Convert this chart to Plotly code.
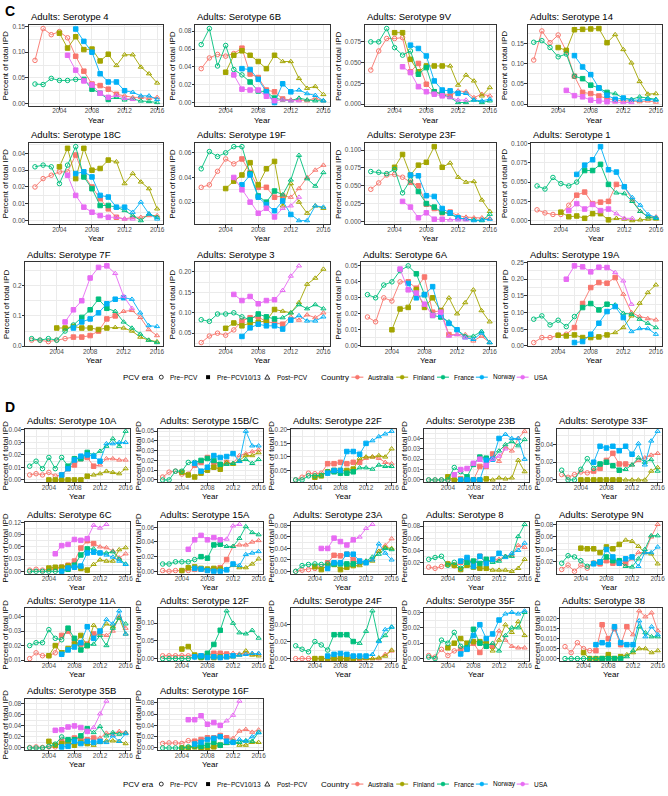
import plotly.graph_objects as go

W, H = 668, 796
YEARS = list(range(2001, 2017))
COUNTRIES = ["Australia", "Finland", "France", "Norway", "USA"]
COLORS = {"Australia": "#F8766D", "Finland": "#A3A500", "France": "#00BF7D",
          "Norway": "#00B0F6", "USA": "#E76BF3"}
# first year of the Pre-PCV10/13 era and of the Post-PCV era, per country
ERA_STARTS = {"Australia": (2006, 2012), "Finland": (2001, 2011), "France": (2007, 2011),
              "Norway": (2001, 2013), "USA": (2001, 2011)}
N = None

# ---- panel C (values 2001..2016, None = no data) ----
s4 = {
    "Australia": [0.084, 0.146, 0.134, 0.140, 0.128, 0.092, 0.063, 0.038, 0.035, 0.028, 0.018, 0.015, 0.012, 0.012, 0.010, 0.012],
    "Finland": [N, N, N, 0.137, 0.108, 0.130, 0.105, 0.106, 0.083, 0.096, 0.074, 0.095, 0.095, 0.071, 0.058, 0.040],
    "France": [0.038, 0.037, 0.049, 0.045, 0.045, 0.047, 0.047, 0.028, 0.020, 0.008, 0.012, 0.007, 0.009, 0.005, 0.004, 0.002],
    "Norway": [N, N, N, N, N, 0.145, 0.121, 0.100, 0.058, 0.042, 0.042, 0.025, 0.022, 0.015, 0.015, 0.008],
    "USA": [N, N, N, N, 0.094, 0.065, 0.044, 0.036, 0.020, 0.012, 0.016, 0.010, 0.008, N, N, N],
}
s6B = {
    "Australia": [0.038, 0.050, 0.054, 0.052, 0.055, 0.061, 0.032, 0.028, 0.014, 0.012, 0.004, 0.003, 0.003, 0.002, 0.005, 0.002],
    "Finland": [N, N, N, 0.034, 0.053, 0.058, 0.053, 0.046, 0.038, 0.053, 0.046, 0.046, 0.027, 0.016, 0.018, 0.009],
    "France": [0.065, 0.083, 0.041, 0.064, 0.037, 0.031, 0.023, 0.013, 0.012, 0.005, 0.003, 0.002, 0.005, 0.003, 0.002, 0.002],
    "Norway": [N, N, N, N, N, 0.038, 0.037, 0.026, 0.012, 0.000, 0.021, 0.012, 0.014, 0.010, 0.008, 0.002],
    "USA": [N, N, N, N, 0.031, 0.015, 0.014, 0.014, 0.007, 0.002, 0.003, 0.002, 0.002, N, N, N],
}
s9V = {
    "Australia": [0.041, 0.064, 0.079, 0.079, 0.080, 0.039, 0.049, 0.024, 0.014, 0.013, 0.010, 0.016, 0.015, 0.008, 0.012, 0.010],
    "Finland": [N, N, N, 0.086, 0.086, 0.054, 0.039, 0.046, 0.046, 0.046, 0.046, 0.023, 0.035, 0.028, 0.010, 0.020],
    "France": [0.075, 0.075, 0.091, 0.068, 0.059, 0.064, 0.036, 0.044, 0.015, 0.012, 0.008, 0.002, 0.002, 0.005, 0.002, 0.004],
    "Norway": [N, N, N, N, N, 0.071, 0.067, 0.058, 0.028, 0.017, 0.016, 0.013, 0.013, 0.005, 0.004, 0.006],
    "USA": [N, N, N, N, 0.045, 0.038, 0.021, 0.015, 0.012, 0.010, 0.008, 0.005, 0.005, N, N, N],
}
s14 = {
    "Australia": [0.109, 0.181, 0.152, 0.171, 0.131, 0.069, 0.029, 0.026, 0.020, 0.014, 0.010, 0.008, 0.008, 0.006, 0.008, 0.005],
    "Finland": [N, N, N, 0.140, 0.133, 0.184, 0.185, 0.186, 0.187, 0.152, 0.172, 0.135, 0.102, 0.056, 0.025, 0.026],
    "France": [0.153, 0.157, 0.140, 0.117, 0.124, 0.069, 0.063, 0.047, 0.040, 0.029, 0.026, 0.015, 0.012, 0.018, 0.015, 0.012],
    "Norway": [N, N, N, N, N, 0.120, 0.092, 0.073, 0.040, 0.022, 0.012, 0.015, 0.010, 0.010, 0.012, 0.010],
    "USA": [N, N, N, N, 0.034, 0.021, 0.018, 0.010, 0.008, 0.006, 0.005, 0.004, 0.004, N, N, N],
}
s18C = {
    "Australia": [0.020, 0.025, 0.027, 0.029, 0.029, 0.039, 0.027, 0.020, 0.013, 0.007, 0.002, 0.001, 0.002, 0.002, 0.003, 0.003],
    "Finland": [N, N, N, 0.032, 0.043, 0.025, 0.043, 0.030, 0.031, 0.036, 0.035, 0.022, 0.028, 0.023, 0.019, 0.007],
    "France": [0.032, 0.033, 0.032, 0.022, 0.033, 0.044, 0.026, 0.019, 0.009, 0.009, 0.008, 0.006, 0.003, 0.000, 0.004, 0.002],
    "Norway": [N, N, N, N, N, 0.028, 0.029, 0.026, 0.015, 0.014, 0.008, 0.008, 0.005, 0.011, 0.004, 0.001],
    "USA": [N, N, N, N, 0.027, 0.015, 0.008, 0.005, 0.003, 0.002, 0.002, 0.001, 0.001, N, N, N],
}
s19F = {
    "Australia": [0.032, 0.034, 0.045, 0.055, 0.051, 0.055, 0.044, 0.032, 0.032, 0.024, 0.025, 0.024, 0.031, 0.040, 0.046, 0.050],
    "Finland": [N, N, N, 0.031, 0.037, 0.042, 0.052, 0.034, 0.047, 0.053, 0.017, 0.035, 0.020, 0.011, 0.017, 0.015],
    "France": [0.047, 0.061, 0.057, 0.060, 0.065, 0.065, 0.043, 0.025, 0.020, 0.029, 0.026, 0.038, 0.058, 0.039, 0.033, 0.044],
    "Norway": [N, N, N, N, N, 0.034, 0.042, 0.024, 0.018, 0.013, 0.021, 0.010, 0.005, 0.005, 0.017, 0.016],
    "USA": [N, N, N, N, 0.040, 0.030, 0.020, 0.011, 0.015, 0.008, 0.015, 0.017, 0.024, N, N, N],
}
s23F = {
    "Australia": [0.045, 0.054, 0.065, 0.066, 0.062, 0.055, 0.050, 0.024, 0.018, 0.012, 0.013, 0.008, 0.006, 0.005, 0.005, 0.004],
    "Finland": [N, N, N, 0.076, 0.094, 0.065, 0.079, 0.083, 0.105, 0.076, 0.082, 0.062, 0.055, 0.056, 0.030, 0.014],
    "France": [0.070, 0.069, 0.067, 0.073, 0.040, 0.058, 0.042, 0.025, 0.020, 0.013, 0.010, 0.005, 0.003, 0.002, 0.001, 0.010],
    "Norway": [N, N, N, N, N, 0.065, 0.064, 0.036, 0.035, 0.018, 0.012, 0.005, 0.003, 0.001, 0.002, 0.003],
    "USA": [N, N, N, N, 0.028, 0.020, 0.005, 0.012, 0.003, 0.003, 0.002, 0.002, 0.002, N, N, N],
}
s1 = {
    "Australia": [0.014, 0.010, 0.008, 0.008, 0.020, 0.033, 0.037, 0.022, 0.024, 0.025, 0.047, 0.044, 0.027, 0.012, 0.005, 0.005],
    "Finland": [N, N, N, 0.011, 0.005, 0.006, 0.003, 0.009, 0.009, 0.001, 0.003, 0.002, 0.000, 0.001, 0.002, 0.002],
    "France": [0.045, 0.041, 0.056, 0.048, 0.045, 0.050, 0.065, 0.065, 0.073, 0.047, 0.036, 0.035, 0.025, 0.012, 0.005, 0.003],
    "Norway": [N, N, N, N, N, 0.060, 0.072, 0.079, 0.096, 0.066, 0.063, 0.044, 0.030, 0.020, 0.008, 0.004],
    "USA": [N, N, N, N, 0.013, 0.022, 0.015, 0.021, 0.013, 0.015, 0.009, 0.003, 0.003, N, N, N],
}
s7F = {
    "Australia": [0.020, 0.020, 0.015, 0.020, 0.025, 0.030, 0.030, 0.035, 0.050, 0.090, 0.100, 0.115, 0.118, 0.095, 0.055, 0.035],
    "Finland": [N, N, N, 0.060, 0.060, 0.065, 0.060, 0.060, 0.055, 0.060, 0.062, 0.060, 0.050, 0.030, 0.020, 0.015],
    "France": [0.025, 0.020, 0.025, 0.020, 0.050, 0.070, 0.095, 0.120, 0.155, 0.125, 0.115, 0.080, 0.060, 0.040, 0.020, 0.012],
    "Norway": [N, N, N, N, N, 0.060, 0.080, 0.090, 0.110, 0.140, 0.155, 0.160, 0.155, 0.110, 0.068, 0.065],
    "USA": [N, N, N, N, 0.080, 0.120, 0.150, 0.225, 0.260, 0.265, 0.240, 0.165, 0.125, N, N, N],
}
s3 = {
    "Australia": [0.027, 0.043, 0.050, 0.045, 0.058, 0.080, 0.088, 0.090, 0.078, 0.075, 0.072, 0.090, 0.082, 0.095, 0.088, 0.100],
    "Finland": [N, N, N, 0.062, 0.075, 0.068, 0.075, 0.077, 0.080, 0.108, 0.104, 0.100, 0.125, 0.170, 0.185, 0.207],
    "France": [0.083, 0.079, 0.097, 0.097, 0.100, 0.090, 0.083, 0.097, 0.090, 0.085, 0.088, 0.100, 0.120, 0.110, 0.120, 0.110],
    "Norway": [N, N, N, N, N, 0.042, 0.063, 0.072, 0.068, 0.068, 0.060, 0.082, 0.093, 0.080, 0.080, 0.090],
    "USA": [N, N, N, N, 0.145, 0.130, 0.140, 0.122, 0.130, 0.132, 0.155, 0.190, 0.215, N, N, N],
}
s6A = {
    "Australia": [0.018, 0.015, 0.030, 0.028, 0.040, 0.040, 0.036, 0.043, 0.021, 0.022, 0.007, 0.007, 0.007, 0.003, 0.006, 0.002],
    "Finland": [N, N, N, 0.010, 0.023, 0.024, 0.035, 0.024, 0.030, 0.022, 0.030, 0.020, 0.027, 0.035, 0.022, 0.015],
    "France": [0.032, 0.030, 0.038, 0.040, 0.047, 0.050, 0.045, 0.032, 0.019, 0.018, 0.015, 0.010, 0.006, 0.006, 0.009, 0.002],
    "Norway": [N, N, N, N, N, 0.039, 0.030, 0.032, 0.037, 0.019, 0.014, 0.010, 0.005, 0.004, 0.008, 0.002],
    "USA": [N, N, N, N, 0.048, 0.035, 0.033, 0.026, 0.019, 0.021, 0.006, 0.007, 0.005, N, N, N],
}
s19A = {
    "Australia": [0.010, 0.025, 0.025, 0.032, 0.035, 0.055, 0.127, 0.175, 0.190, 0.188, 0.205, 0.155, 0.100, 0.088, 0.082, 0.078],
    "Finland": [N, N, N, 0.032, 0.030, 0.033, 0.025, 0.025, 0.027, 0.033, 0.040, 0.055, 0.090, 0.128, 0.160, 0.183],
    "France": [0.080, 0.090, 0.063, 0.077, 0.058, 0.088, 0.115, 0.127, 0.108, 0.125, 0.123, 0.098, 0.095, 0.080, 0.068, 0.055],
    "Norway": [N, N, N, N, N, 0.010, 0.013, 0.035, 0.068, 0.103, 0.118, 0.085, 0.043, 0.052, 0.052, 0.035],
    "USA": [N, N, N, N, 0.200, 0.240, 0.237, 0.222, 0.236, 0.235, 0.220, 0.195, 0.125, N, N, N],
}

# ---- panel D ----
s10A = {
    "Australia": [0.004, 0.005, 0.004, 0.006, 0.003, 0.004, 0.009, 0.012, 0.017, 0.018, 0.011, 0.012, 0.017, 0.017, 0.016, 0.016],
    "Finland": [N, N, N, 0.000, 0.000, 0.000, 0.000, 0.000, 0.000, 0.003, 0.004, 0.005, 0.007, 0.006, 0.005, 0.009],
    "France": [0.011, 0.015, 0.009, 0.018, 0.009, 0.018, 0.011, 0.017, 0.017, 0.022, 0.020, 0.023, 0.027, 0.033, 0.027, 0.039],
    "Norway": [N, N, N, N, N, 0.004, 0.009, 0.016, 0.019, 0.020, 0.019, 0.015, 0.029, 0.029, 0.030, 0.030],
}
s15BC = {
    "Australia": [0.003, 0.008, 0.009, 0.006, 0.006, 0.015, 0.018, 0.023, 0.018, 0.015, 0.018, 0.017, 0.025, 0.027, 0.029, 0.031],
    "Finland": [N, N, N, 0.008, 0.005, 0.003, 0.007, 0.010, 0.013, 0.011, 0.018, 0.016, 0.020, 0.025, 0.025, 0.028],
    "France": [0.000, 0.000, 0.009, 0.009, 0.018, 0.018, 0.020, 0.022, 0.020, 0.016, 0.016, 0.017, 0.019, 0.021, 0.017, 0.021],
    "Norway": [N, N, N, N, N, 0.017, 0.009, 0.013, 0.025, 0.023, 0.024, 0.027, 0.019, 0.050, 0.035, 0.035],
}
s22F = {
    "Australia": [0.015, 0.025, 0.040, 0.038, 0.040, 0.075, 0.075, 0.080, 0.075, 0.080, 0.080, 0.095, 0.100, 0.095, 0.080, 0.075],
    "Finland": [N, N, N, 0.025, 0.030, 0.045, 0.050, 0.050, 0.050, 0.055, 0.095, 0.100, 0.100, 0.105, 0.100, 0.130],
    "France": [0.015, 0.015, 0.030, 0.030, 0.032, 0.045, 0.045, 0.040, 0.040, 0.045, 0.060, 0.060, 0.055, 0.070, 0.065, 0.065],
    "Norway": [N, N, N, N, N, 0.040, 0.050, 0.050, 0.120, 0.120, 0.110, 0.150, 0.160, 0.175, 0.185, 0.195],
}
s23B = {
    "Australia": [0.000, 0.000, 0.000, 0.000, 0.000, 0.001, 0.000, 0.000, 0.013, 0.013, 0.025, 0.018, 0.032, 0.028, 0.040, 0.047],
    "Finland": [N, N, N, 0.003, 0.000, 0.000, 0.000, 0.000, 0.000, 0.001, 0.000, 0.002, 0.001, 0.002, 0.019, 0.008],
    "France": [0.000, 0.000, 0.000, 0.000, 0.012, 0.008, 0.003, 0.015, 0.022, 0.021, 0.020, 0.028, 0.034, 0.037, 0.033, 0.039],
    "Norway": [N, N, N, N, N, 0.000, 0.000, 0.000, 0.000, 0.019, 0.020, 0.040, 0.044, 0.040, 0.040, 0.020],
    "USA": [N, N, N, N, 0.005, 0.010, 0.011, 0.016, 0.020, 0.014, 0.020, 0.023, 0.030, N, N, N],
}
s33F = {
    "Australia": [0.006, 0.003, 0.006, 0.009, 0.008, 0.010, 0.013, 0.022, 0.030, 0.018, 0.018, 0.017, 0.022, 0.025, 0.028, 0.030],
    "Finland": [N, N, N, 0.000, 0.000, 0.000, 0.000, 0.000, 0.000, 0.000, 0.000, 0.000, 0.000, 0.000, 0.010, 0.014],
    "France": [0.011, 0.000, 0.000, 0.012, 0.024, 0.013, 0.018, 0.020, 0.016, 0.011, 0.012, 0.017, 0.025, 0.020, 0.023, 0.010],
    "Norway": [N, N, N, N, N, 0.020, 0.038, 0.036, 0.038, 0.033, 0.038, 0.029, 0.041, 0.017, 0.044, 0.055],
}
s6C = {
    "Australia": [0.003, 0.005, 0.003, 0.005, 0.005, 0.010, 0.015, 0.025, 0.057, 0.075, 0.068, 0.060, 0.058, 0.050, 0.033, 0.043],
    "Finland": [N, N, N, 0.008, 0.010, 0.010, 0.013, 0.013, 0.007, 0.003, 0.017, 0.028, 0.025, 0.025, 0.053, 0.058],
    "France": [0.000, 0.000, 0.000, 0.000, 0.000, 0.000, 0.005, 0.015, 0.040, 0.055, 0.055, 0.045, 0.045, 0.048, 0.030, 0.018],
    "Norway": [N, N, N, N, N, 0.000, 0.008, 0.010, 0.013, 0.045, 0.047, 0.045, 0.040, 0.035, 0.025, 0.017],
    "USA": [N, N, N, N, 0.043, 0.063, 0.066, 0.078, 0.076, 0.080, 0.113, 0.106, 0.115, N, N, N],
}
s15A = {
    "Australia": [0.001, 0.000, 0.001, 0.001, 0.001, 0.003, 0.003, 0.002, 0.003, 0.005, 0.016, 0.034, 0.036, 0.036, 0.040, 0.042],
    "Finland": [N, N, N, 0.001, 0.005, 0.006, 0.004, 0.003, 0.004, 0.003, 0.003, 0.008, 0.005, 0.005, 0.010, 0.017],
    "France": [0.010, 0.010, 0.013, 0.013, 0.013, 0.016, 0.020, 0.018, 0.036, 0.037, 0.034, 0.034, 0.045, 0.061, 0.053, 0.050],
    "Norway": [N, N, N, N, N, 0.004, 0.003, 0.001, 0.000, 0.000, 0.002, 0.010, 0.008, 0.023, 0.025, 0.027],
    "USA": [N, N, N, N, 0.030, 0.043, 0.049, 0.043, 0.046, 0.043, 0.044, 0.062, 0.064, N, N, N],
}
s23A = {
    "Australia": [0.000, 0.002, 0.003, 0.005, 0.008, 0.015, 0.028, 0.027, 0.030, 0.020, 0.015, 0.018, 0.020, 0.035, 0.045, 0.057],
    "Finland": [N, N, N, 0.008, 0.003, 0.010, 0.012, 0.003, 0.007, 0.010, 0.010, 0.016, 0.018, 0.035, 0.042, 0.040],
    "France": [0.000, 0.010, 0.012, 0.013, 0.012, 0.013, 0.013, 0.013, 0.013, 0.013, 0.015, 0.018, 0.025, 0.030, 0.040, 0.038],
    "Norway": [N, N, N, N, N, 0.005, 0.015, 0.015, 0.030, 0.030, 0.018, 0.015, 0.020, 0.048, 0.032, 0.020],
    "USA": [N, N, N, N, 0.040, 0.040, 0.058, 0.052, 0.046, 0.055, 0.060, 0.075, 0.082, N, N, N],
}
s8 = {
    "Australia": [0.012, 0.010, 0.013, 0.018, 0.014, 0.020, 0.025, 0.020, 0.030, 0.020, 0.025, 0.025, 0.030, 0.032, 0.048, 0.045],
    "Finland": [N, N, N, 0.017, 0.015, 0.008, 0.015, 0.012, 0.010, 0.010, 0.007, 0.007, 0.007, 0.005, 0.010, 0.025],
    "France": [0.025, 0.028, 0.030, 0.015, 0.020, 0.010, 0.020, 0.022, 0.018, 0.025, 0.020, 0.022, 0.030, 0.030, 0.063, 0.083],
    "Norway": [N, N, N, N, N, 0.022, 0.028, 0.013, 0.030, 0.018, 0.025, 0.035, 0.028, 0.035, 0.040, 0.052],
}
s9N = {
    "Australia": [0.008, 0.015, 0.005, 0.015, 0.010, 0.018, 0.017, 0.022, 0.018, 0.018, 0.018, 0.025, 0.035, 0.035, 0.060, 0.080],
    "Finland": [N, N, N, 0.042, 0.041, 0.041, 0.035, 0.044, 0.041, 0.048, 0.055, 0.053, 0.045, 0.035, 0.033, 0.017],
    "France": [0.018, 0.030, 0.028, 0.022, 0.013, 0.018, 0.020, 0.028, 0.022, 0.022, 0.013, 0.012, 0.025, 0.040, 0.062, 0.062],
    "Norway": [N, N, N, N, N, 0.017, 0.020, 0.040, 0.028, 0.018, 0.025, 0.028, 0.013, 0.035, 0.035, 0.044],
}
s11A = {
    "Australia": [0.011, 0.015, 0.013, 0.013, 0.015, 0.027, 0.030, 0.023, 0.021, 0.021, 0.028, 0.028, 0.027, 0.030, 0.040, 0.032],
    "Finland": [N, N, N, 0.013, 0.020, 0.015, 0.018, 0.021, 0.027, 0.020, 0.034, 0.030, 0.035, 0.033, 0.039, 0.028],
    "France": [0.020, 0.022, 0.022, 0.031, 0.025, 0.024, 0.032, 0.025, 0.017, 0.020, 0.021, 0.027, 0.020, 0.032, 0.039, 0.035],
    "Norway": [N, N, N, N, N, 0.014, 0.017, 0.019, 0.022, 0.033, 0.025, 0.030, 0.038, 0.035, 0.044, 0.028],
}
s12F = {
    "Australia": [0.008, 0.008, 0.008, 0.008, 0.008, 0.008, 0.008, 0.010, 0.015, 0.015, 0.013, 0.015, 0.013, 0.015, 0.013, 0.013],
    "Finland": [N, N, N, 0.027, 0.034, 0.010, 0.003, 0.005, 0.003, 0.005, 0.003, 0.005, 0.010, 0.022, 0.010, 0.008],
    "France": [0.000, 0.000, 0.000, 0.000, 0.000, 0.005, 0.005, 0.015, 0.040, 0.080, 0.135, 0.100, 0.073, 0.070, 0.080, 0.058],
    "Norway": [N, N, N, N, N, 0.005, 0.008, 0.003, 0.005, 0.003, 0.005, 0.008, 0.010, 0.012, 0.015, 0.015],
}
s24F = {
    "Australia": [0.000, 0.000, 0.000, 0.000, 0.000, 0.000, 0.000, 0.000, 0.000, 0.000, 0.000, 0.000, 0.000, 0.000, 0.005, 0.009],
    "Finland": [N, N, N, 0.000, 0.000, 0.000, 0.000, 0.000, 0.000, 0.000, 0.000, 0.000, 0.000, 0.001, 0.003, 0.010],
    "France": [0.015, 0.011, 0.008, 0.020, 0.016, 0.010, 0.028, 0.028, 0.028, 0.020, 0.018, 0.032, 0.056, 0.021, 0.027, 0.037],
    "Norway": [N, N, N, N, N, 0.003, 0.005, 0.006, 0.005, 0.003, 0.003, 0.003, 0.005, 0.020, 0.034, 0.037],
}
s35F = {
    "Australia": [0.002, 0.001, 0.006, 0.002, 0.005, 0.006, 0.007, 0.010, 0.004, 0.010, 0.008, 0.018, 0.012, 0.008, 0.007, 0.007],
    "Finland": [N, N, N, 0.007, 0.010, 0.013, 0.010, 0.011, 0.011, 0.010, 0.005, 0.012, 0.022, 0.017, 0.024, 0.015],
    "France": [0.001, 0.000, 0.012, 0.010, 0.017, 0.008, 0.007, 0.019, 0.010, 0.008, 0.010, 0.005, 0.015, 0.020, 0.020, 0.030],
    "Norway": [N, N, N, N, N, 0.003, 0.006, 0.015, 0.022, 0.013, 0.016, 0.025, 0.029, 0.030, 0.029, 0.031],
}
s38 = {
    "Australia": [0.006, 0.003, 0.008, 0.005, 0.004, 0.004, 0.017, 0.010, 0.015, 0.007, 0.016, 0.012, 0.024, 0.021, 0.023, 0.014],
    "Finland": [N, N, N, 0.003, 0.000, 0.000, 0.000, 0.002, 0.000, 0.001, 0.002, 0.003, 0.005, 0.005, 0.003, 0.004],
    "France": [0.000, 0.000, 0.000, 0.000, 0.000, 0.000, 0.000, 0.000, 0.000, 0.000, 0.001, 0.004, 0.016, 0.013, 0.011, 0.011],
    "Norway": [N, N, N, N, N, 0.007, 0.008, 0.007, 0.016, 0.008, 0.007, 0.007, 0.019, 0.011, 0.016, 0.012],
}
s35B = {
    "Australia": [0.001, 0.002, 0.001, 0.002, 0.002, 0.012, 0.012, 0.018, 0.017, 0.015, 0.018, 0.018, 0.027, 0.025, 0.030, 0.028],
    "Finland": [N, N, N, 0.012, 0.005, 0.008, 0.010, 0.005, 0.010, 0.008, 0.005, 0.010, 0.013, 0.013, 0.012, 0.008],
    "France": [0.000, 0.000, 0.000, 0.003, 0.007, 0.020, 0.015, 0.015, 0.022, 0.035, 0.028, 0.039, 0.022, 0.028, 0.025, 0.027],
    "Norway": [N, N, N, N, N, 0.002, 0.003, 0.012, 0.008, 0.012, 0.010, 0.012, 0.010, 0.022, 0.012, 0.026],
    "USA": [N, N, N, N, 0.032, 0.033, 0.038, 0.040, 0.037, 0.030, 0.037, 0.062, 0.085, N, N, N],
}
s16F = {
    "Australia": [0.008, 0.009, 0.009, 0.008, 0.013, 0.012, 0.015, 0.018, 0.018, 0.022, 0.018, 0.017, 0.030, 0.033, 0.028, 0.032],
    "Finland": [N, N, N, 0.000, 0.000, 0.002, 0.000, 0.000, 0.002, 0.005, 0.008, 0.012, 0.005, 0.005, 0.010, 0.010],
    "France": [0.000, 0.000, 0.000, 0.000, 0.002, 0.003, 0.003, 0.005, 0.010, 0.005, 0.008, 0.010, 0.010, 0.013, 0.012, 0.028],
    "Norway": [N, N, N, N, N, 0.007, 0.010, 0.015, 0.017, 0.020, 0.012, 0.010, 0.015, 0.012, 0.020, 0.027],
    "USA": [N, N, N, N, 0.050, 0.050, 0.057, 0.042, 0.045, 0.040, 0.048, 0.058, 0.083, N, N, N],
}

# serotype, data, y tick values, tick format
PANELS_C = [
    ("4", s4, [0, 0.05, 0.10, 0.15], ".2f"),
    ("6B", s6B, [0, 0.02, 0.04, 0.06, 0.08], ".2f"),
    ("9V", s9V, [0, 0.025, 0.05, 0.075], ".3f"),
    ("14", s14, [0, 0.05, 0.10, 0.15], ".2f"),
    ("18C", s18C, [0, 0.01, 0.02, 0.03, 0.04], ".2f"),
    ("19F", s19F, [0.02, 0.04, 0.06], ".2f"),
    ("23F", s23F, [0, 0.025, 0.05, 0.075, 0.10], ".3f"),
    ("1", s1, [0, 0.025, 0.05, 0.075, 0.10], ".3f"),
    ("7F", s7F, [0, 0.1, 0.2], ".1f"),
    ("3", s3, [0.05, 0.10, 0.15, 0.20], ".2f"),
    ("6A", s6A, [0, 0.01, 0.02, 0.03, 0.04, 0.05], ".2f"),
    ("19A", s19A, [0, 0.05, 0.10, 0.15, 0.20, 0.25], ".2f"),
]
PANELS_D = [
    ("10A", s10A, [0, 0.01, 0.02, 0.03, 0.04], ".2f"),
    ("15B/C", s15BC, [0, 0.01, 0.02, 0.03, 0.04, 0.05], ".2f"),
    ("22F", s22F, [0.05, 0.10, 0.15, 0.20], ".2f"),
    ("23B", s23B, [0, 0.01, 0.02, 0.03, 0.04], ".2f"),
    ("33F", s33F, [0, 0.02, 0.04], ".2f"),
    ("6C", s6C, [0, 0.03, 0.06, 0.09, 0.12], ".2f"),
    ("15A", s15A, [0, 0.02, 0.04, 0.06], ".2f"),
    ("23A", s23A, [0, 0.02, 0.04, 0.06, 0.08], ".2f"),
    ("8", s8, [0.02, 0.04, 0.06, 0.08], ".2f"),
    ("9N", s9N, [0.02, 0.04, 0.06, 0.08], ".2f"),
    ("11A", s11A, [0.01, 0.02, 0.03, 0.04], ".2f"),
    ("12F", s12F, [0, 0.05, 0.10], ".2f"),
    ("24F", s24F, [0, 0.02, 0.04], ".2f"),
    ("35F", s35F, [0, 0.01, 0.02, 0.03], ".2f"),
    ("38", s38, [0, 0.005, 0.010, 0.015, 0.020], ".3f"),
    ("35B", s35B, [0, 0.02, 0.04, 0.06, 0.08], ".2f"),
    ("16F", s16F, [0, 0.02, 0.04, 0.06, 0.08], ".2f"),
]

FONT = "Liberation Sans, Arial, sans-serif"
GRID = "#EBEBEB"
DARK = "#333333"


def era_symbol(country, year):
    mid, post = ERA_STARTS[country]
    if year >= post:
        return "triangle-up-open"
    if year >= mid:
        return "square"
    return "circle-open"


fig = go.Figure()
layout = {}
annotations = []
shapes = []


def add_panel(i, sero, data, ticks, fmt, box, col_start):
    left, right, top, bottom = box
    xr = "x" if i == 1 else f"x{i}"
    yr = "y" if i == 1 else f"y{i}"
    allv = []
    for c in COUNTRIES:
        vals = data.get(c)
        if vals is None:
            continue
        xs = [yy for yy, v in zip(YEARS, vals) if v is not None]
        ys = [v for v in vals if v is not None]
        allv += ys
        fig.add_trace(go.Scatter(
            x=xs, y=ys, xaxis=xr, yaxis=yr, mode="lines+markers",
            line=dict(color=COLORS[c], width=0.9),
            marker=dict(symbol=[era_symbol(c, yy) for yy in xs], size=4.5,
                        color=COLORS[c], line=dict(color=COLORS[c], width=1)),
            showlegend=False, hoverinfo="skip"))
    lo, hi = min(allv), max(allv)
    pad = (hi - lo) * 0.05
    step = ticks[1] - ticks[0]
    minor = [t - step / 2 for t in ticks] + [ticks[-1] + step / 2]
    ax_common = dict(showline=True, mirror=True, linecolor=DARK, linewidth=0.8,
                     ticks="outside", ticklen=2.5, tickwidth=0.8, tickcolor=DARK,
                     tickfont=dict(size=6.5, color="#4D4D4D", family=FONT),
                     showgrid=True, gridcolor=GRID, gridwidth=0.9, zeroline=False,
                     fixedrange=True)
    layout["xaxis" if i == 1 else f"xaxis{i}"] = dict(
        ax_common, domain=[left / W, right / W], anchor=yr,
        range=[2000.25, 2016.75], tickvals=[2004, 2008, 2012, 2016],
        ticklabelstandoff=-4,
        minor=dict(tickvals=[2002, 2006, 2010, 2014], showgrid=True,
                   gridcolor=GRID, gridwidth=0.5))
    layout["yaxis" if i == 1 else f"yaxis{i}"] = dict(
        ax_common, domain=[1 - bottom / H, 1 - top / H], anchor=xr,
        range=[lo - pad, hi + pad], tickvals=ticks, tickformat=fmt,
        ticklabelstandoff=-1,
        minor=dict(tickvals=minor, showgrid=True, gridcolor=GRID, gridwidth=0.5))
    annotations.append(dict(text="Adults: Serotype " + sero, x=left / W, y=1 - (top - 8) / H,
                            xref="paper", yref="paper", xanchor="left", yanchor="middle",
                            showarrow=False, font=dict(size=9.5, color="black", family=FONT)))
    annotations.append(dict(text="Year", x=(left + right) / 2 / W, y=1 - (bottom + 14) / H,
                            xref="paper", yref="paper", xanchor="center", yanchor="middle",
                            showarrow=False, font=dict(size=8, color="black", family=FONT)))
    annotations.append(dict(text="Percent of total IPD", x=(col_start + 6) / W,
                            y=1 - (top + bottom) / 2 / H, textangle=-90,
                            xref="paper", yref="paper", xanchor="center", yanchor="middle",
                            showarrow=False, font=dict(size=8, color="black", family=FONT)))


def label_chars(ticks, fmt):
    return max(len(format(t, fmt)) for t in ticks)


ROWS_C = [(22, 104), (141, 223), (261, 346)]
ROWS_D = [(429, 483), (523, 575), (610, 663), (701, 753)]

idx = 1
for k, (sero, data, ticks, fmt) in enumerate(PANELS_C):
    r, c = divmod(k, 4)
    cs = 167 * c
    left = cs + 29 + 3.5 * (label_chars(ticks, fmt) - 4)
    add_panel(idx, sero, data, ticks, fmt, (left, cs + 164, *ROWS_C[r]), cs)
    idx += 1
for k, (sero, data, ticks, fmt) in enumerate(PANELS_D):
    r, c = divmod(k, 5)
    cs = 133.6 * c
    left = cs + 25 + 3.5 * (label_chars(ticks, fmt) - 4)
    add_panel(idx, sero, data, ticks, fmt, (left, cs + 131, *ROWS_D[r]), cs)
    idx += 1

# panel letters
for letter, yy in (("C", 8), ("D", 407)):
    annotations.append(dict(text="<b>" + letter + "</b>", x=3 / W, y=1 - yy / H, xref="paper",
                            yref="paper", xanchor="left", yanchor="middle", showarrow=False,
                            font=dict(size=14, color="black", family=FONT)))


# legends (drawn in paper space, one under each panel group)
def add_legend(yy):
    def px(x):
        return x / W

    def py(y):
        return 1 - y / H

    def text(t, x, size=6.5):
        annotations.append(dict(text=t, x=px(x), y=py(yy), xref="paper", yref="paper",
                                xanchor="left", yanchor="middle", showarrow=False,
                                font=dict(size=size, color="black", family=FONT)))

    text("PCV era", 122, 8)
    # open circle
    shapes.append(dict(type="circle", xref="paper", yref="paper", x0=px(160), x1=px(164),
                       y0=py(yy + 2), y1=py(yy - 2), line=dict(color="black", width=0.8)))
    text("Pre\u2212PCV", 169)
    shapes.append(dict(type="rect", xref="paper", yref="paper", x0=px(207), x1=px(211),
                       y0=py(yy + 2), y1=py(yy - 2), fillcolor="black", line=dict(width=0)))
    text("Pre\u2212PCV10/13", 216)
    shapes.append(dict(type="path", xref="paper", yref="paper",
                       path=f"M {px(266)} {py(yy + 2)} L {px(271)} {py(yy + 2)} L {px(268.5)} {py(yy - 2.5)} Z",
                       line=dict(color="black", width=0.8)))
    text("Post\u2212PCV", 276)
    text("Country", 320, 8)
    kx = [353, 398, 439, 478, 519]
    for c, x0 in zip(COUNTRIES, kx):
        shapes.append(dict(type="line", xref="paper", yref="paper", x0=px(x0), x1=px(x0 + 12),
                           y0=py(yy), y1=py(yy), line=dict(color=COLORS[c], width=1)))
        shapes.append(dict(type="circle", xref="paper", yref="paper", x0=px(x0 + 4), x1=px(x0 + 8),
                           y0=py(yy + 2), y1=py(yy - 2), fillcolor=COLORS[c],
                           line=dict(color=COLORS[c], width=0.5)))
        text(c, x0 + 15)


add_legend(377)
add_legend(787)

fig.update_layout(
    width=W, height=H, margin=dict(l=0, r=0, t=0, b=0),
    paper_bgcolor="white", plot_bgcolor="white",
    font=dict(family=FONT), showlegend=False,
    annotations=annotations, shapes=shapes, **layout)

fig.write_html("out.html", config={"displayModeBar": False},
               post_script="document.body.style.margin='0';")
